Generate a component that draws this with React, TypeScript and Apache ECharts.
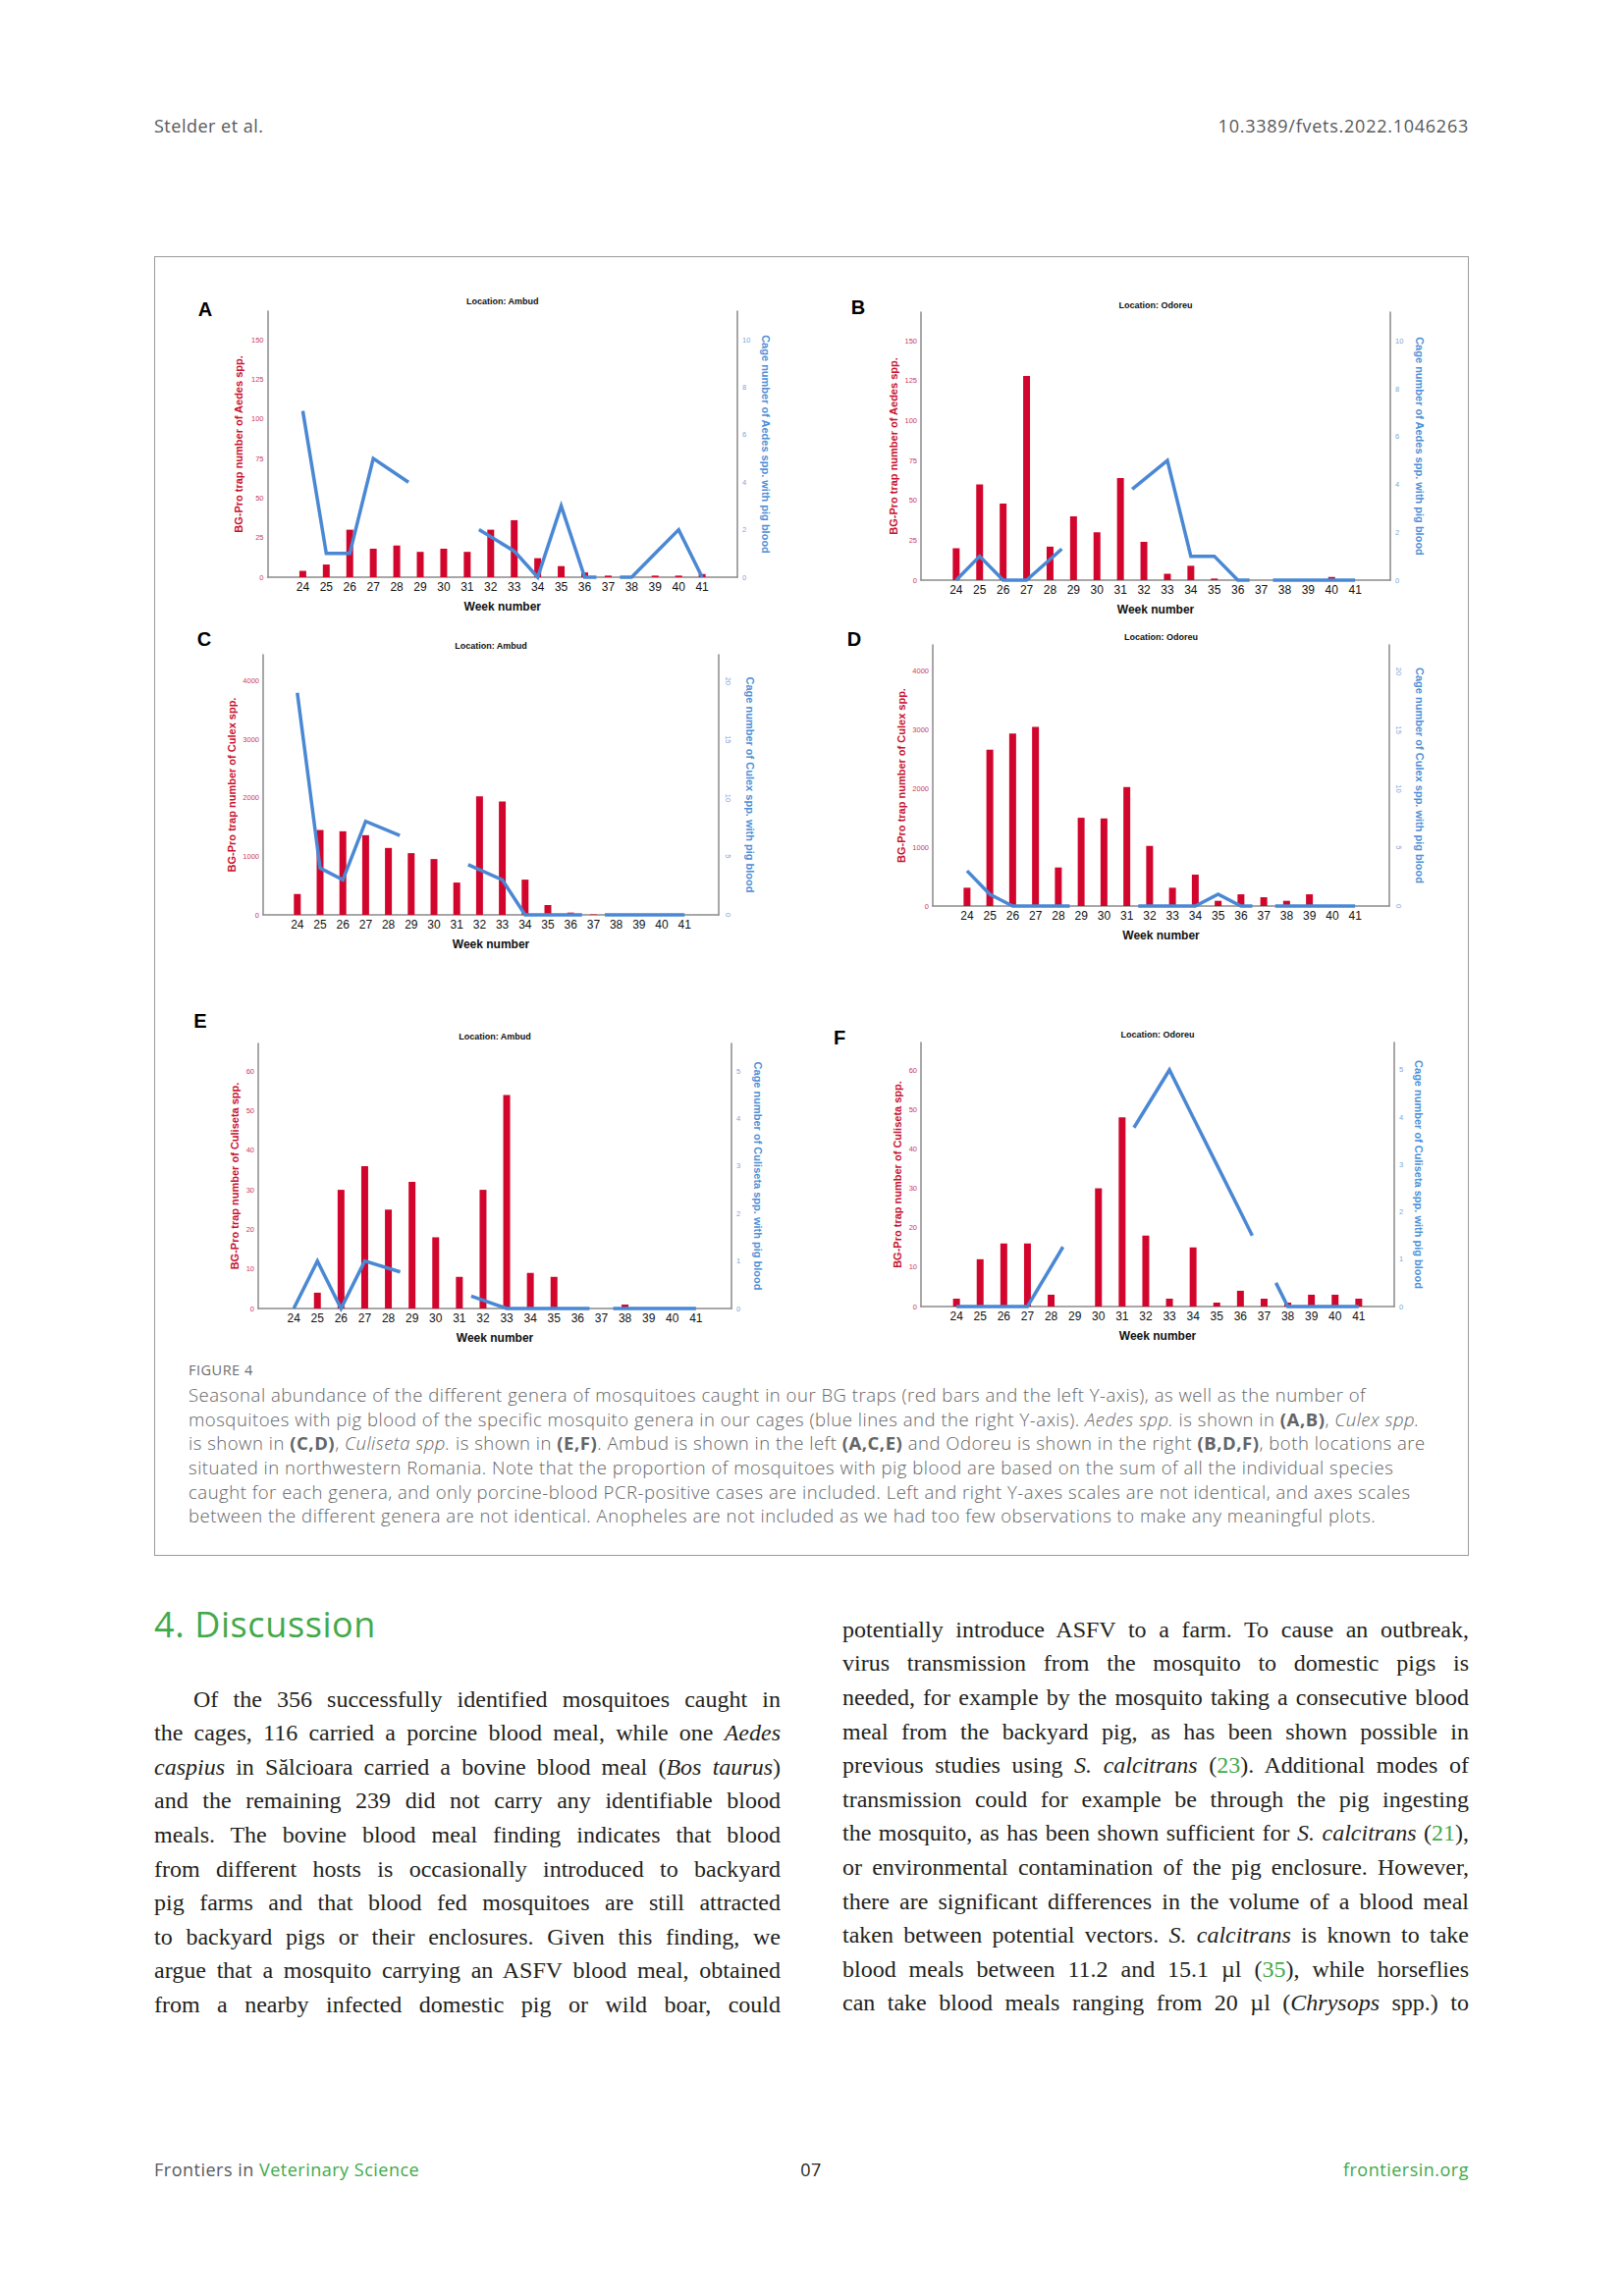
import React, { useEffect, useRef } from "react";
import * as echarts from "echarts";

// ---------- DATA ----------
const weeks = [24, 25, 26, 27, 28, 29, 30, 31, 32, 33, 34, 35, 36, 37, 38, 39, 40, 41];

const trapAedesAmbud = [4, 8, 30, 18, 20, 16, 18, 16, 30, 36, 12, 7, 3, 1, 0, 1, 1, 2];
const trapAedesOdoreu = [20, 60, 48, 128, 21, 40, 30, 64, 24, 4, 9, 1, 0, 0, 0, 0, 2, 0];
const trapCulexAmbud = [357, 1452, 1430, 1363, 1145, 1056, 955, 553, 2028, 1939, 603, 168, 39, 8, 0, 0, 0, 0];
const trapCulexOdoreu = [312, 2663, 2941, 3053, 657, 1504, 1493, 2028, 1025, 312, 535, 89, 200, 150, 89, 200, 0, 0];
const trapCulisetaAmbud = [0, 4, 30, 36, 25, 32, 18, 8, 30, 54, 9, 8, 0, 0, 1, 0, 0, 0];
const trapCulisetaOdoreu = [2, 12, 16, 16, 3, 0, 30, 48, 18, 2, 15, 1, 4, 2, 1, 3, 3, 2];

type Pt = [number, number] | null;
// cage counts with pig blood: [week, value]; null = break in the line
const cageAedesAmbud: Pt[] = [[24, 7], [25, 1], [26, 1], [27, 5], [28.5, 4], null, [31.5, 2], [33, 1.1], [34, 0], [35, 3], [36, 0], [36.5, 0], null, [37.5, 0], [38, 0], [39, 1], [40, 2], [41, 0]];
const cageAedesOdoreu: Pt[] = [[24, 0], [25, 1], [26, 0], [27, 0], [28.5, 1.3], null, [31.5, 3.8], [33, 5], [34, 1], [35, 1], [36, 0], [36.5, 0], null, [37.5, 0], [38, 0], [39, 0], [40, 0], [41, 0]];
const cageCulexAmbud: Pt[] = [[24, 19], [25, 4], [26, 3], [27, 8], [28.5, 6.8], null, [31.5, 4.3], [33, 3], [34, 0], [35, 0], [36, 0], [36.5, 0], null, [37.5, 0], [38, 0], [39, 0], [40, 0], [41, 0]];
const cageCulexOdoreu: Pt[] = [[24, 3], [25, 1], [26, 0], [27, 0], [28, 0], [28.5, 0], null, [31.5, 0], [32, 0], [33, 0], [34, 0], [35, 1], [36, 0], [36.5, 0], null, [37.5, 0], [38, 0], [39, 0], [40, 0], [41, 0]];
const cageCulisetaAmbud: Pt[] = [[24, 0], [25, 1], [26, 0], [27, 1], [28.5, 0.77], null, [31.5, 0.26], [33, 0], [34, 0], [35, 0], [36, 0], [36.5, 0], null, [37.5, 0], [38, 0], [39, 0], [40, 0], [41, 0]];
const cageCulisetaOdoreu: Pt[] = [[24, 0], [25, 0], [26, 0], [27, 0], [28.5, 1.26], null, [31.5, 3.78], [33, 5], [34, 4], [35, 3], [36, 2], [36.5, 1.5], null, [37.5, 0.5], [38, 0], [39, 0], [40, 0], [41, 0]];

const trapTicksAedes = [0, 25, 50, 75, 100, 125, 150];
const cageTicksAedes = [0, 2, 4, 6, 8, 10];
const trapTicksCulex = [0, 1000, 2000, 3000, 4000];
const cageTicksCulex = [0, 5, 10, 15, 20];
const trapTicksCuliseta = [0, 10, 20, 30, 40, 50, 60];
const cageTicksCuliseta = [0, 1, 2, 3, 4, 5];

const captionLines = [
  "Seasonal abundance of the different genera of mosquitoes caught in our BG traps (red bars and the left Y-axis), as well as the number of",
  "mosquitoes with pig blood of the specific mosquito genera in our cages (blue lines and the right Y-axis). <i>Aedes spp.</i> is shown in <b>(A,B)</b>, <i>Culex spp.</i>",
  "is shown in <b>(C,D)</b>, <i>Culiseta spp.</i> is shown in <b>(E,F)</b>. Ambud is shown in the left <b>(A,C,E)</b> and Odoreu is shown in the right <b>(B,D,F)</b>, both locations are",
  "situated in northwestern Romania. Note that the proportion of mosquitoes with pig blood are based on the sum of all the individual species",
  "caught for each genera, and only porcine-blood PCR-positive cases are included. Left and right Y-axes scales are not identical, and axes scales",
  "between the different genera are not identical. Anopheles are not included as we had too few observations to make any meaningful plots.",
];

const leftColumn = [
  "Of the 356 successfully identified mosquitoes caught in",
  "the cages, 116 carried a porcine blood meal, while one <i>Aedes</i>",
  "<i>caspius</i> in Sălcioara carried a bovine blood meal (<i>Bos taurus</i>)",
  "and the remaining 239 did not carry any identifiable blood",
  "meals. The bovine blood meal finding indicates that blood",
  "from different hosts is occasionally introduced to backyard",
  "pig farms and that blood fed mosquitoes are still attracted",
  "to backyard pigs or their enclosures. Given this finding, we",
  "argue that a mosquito carrying an ASFV blood meal, obtained",
  "from a nearby infected domestic pig or wild boar, could",
];

const rightColumn = [
  "potentially introduce ASFV to a farm. To cause an outbreak,",
  "virus transmission from the mosquito to domestic pigs is",
  "needed, for example by the mosquito taking a consecutive blood",
  "meal from the backyard pig, as has been shown possible in",
  "previous studies using <i>S. calcitrans</i> (<span class='g'>23</span>). Additional modes of",
  "transmission could for example be through the pig ingesting",
  "the mosquito, as has been shown sufficient for <i>S. calcitrans</i> (<span class='g'>21</span>),",
  "or environmental contamination of the pig enclosure. However,",
  "there are significant differences in the volume of a blood meal",
  "taken between potential vectors. <i>S. calcitrans</i> is known to take",
  "blood meals between 11.2 and 15.1 µl (<span class='g'>35</span>), while horseflies",
  "can take blood meals ranging from 20 µl (<i>Chrysops</i> spp.) to",
];

// ---------- STYLE / LAYOUT ----------
const RED = "#d2062c";
const BLUE = "#4a88d4";
const GREEN = "#43a94b";
const AXIS = "#8a8a8a";
const SANS = "'Liberation Sans', Arial, sans-serif";

const panels = [
  { letter: "A", loc: "Ambud", genus: "Aedes", trap: trapAedesAmbud, cage: cageAedesAmbud, lt: trapTicksAedes, lMax: 168, rt: cageTicksAedes, rMax: 11.2, box: [272.5, 317, 478.5, 271], lg: 24, rg: 23, rRot: 0, letterPos: [209, 315], titleY: 307 },
  { letter: "B", loc: "Odoreu", genus: "Aedes", trap: trapAedesOdoreu, cage: cageAedesOdoreu, lt: trapTicksAedes, lMax: 168, rt: cageTicksAedes, rMax: 11.2, box: [938, 318, 478, 273], lg: 23, rg: 24, rRot: 0, letterPos: [874, 313], titleY: 311 },
  { letter: "C", loc: "Ambud", genus: "Culex", trap: trapCulexAmbud, cage: cageCulexAmbud, lt: trapTicksCulex, lMax: 4450, rt: cageTicksCulex, rMax: 22.25, box: [268, 667, 464, 265], lg: 27, rg: 26, rRot: -90, letterPos: [208, 651], titleY: 658 },
  { letter: "D", loc: "Odoreu", genus: "Culex", trap: trapCulexOdoreu, cage: cageCulexOdoreu, lt: trapTicksCulex, lMax: 4450, rt: cageTicksCulex, rMax: 22.25, box: [950, 657, 465, 266], lg: 27, rg: 25, rRot: -90, letterPos: [870, 651], titleY: 649 },
  { letter: "E", loc: "Ambud", genus: "Culiseta", trap: trapCulisetaAmbud, cage: cageCulisetaAmbud, lt: trapTicksCuliseta, lMax: 67, rt: cageTicksCuliseta, rMax: 5.58, box: [263, 1063, 482, 270], lg: 19, rg: 21, rRot: 0, letterPos: [204, 1040], titleY: 1056 },
  { letter: "F", loc: "Odoreu", genus: "Culiseta", trap: trapCulisetaOdoreu, cage: cageCulisetaOdoreu, lt: trapTicksCuliseta, lMax: 67, rt: cageTicksCuliseta, rMax: 5.58, box: [938, 1062, 482, 269], lg: 19, rg: 19, rRot: 0, letterPos: [855, 1057], titleY: 1054 },
];

function splitSegments(pts: Pt[]): [number, number][][] {
  const segs: [number, number][][] = [];
  let cur: [number, number][] = [];
  pts.forEach((p) => {
    if (p === null) {
      if (cur.length) segs.push(cur);
      cur = [];
    } else cur.push(p);
  });
  if (cur.length) segs.push(cur);
  return segs;
}

function buildOption() {
  const grid: any[] = [];
  const xAxis: any[] = [];
  const yAxis: any[] = [];
  const series: any[] = [];
  const graphic: any[] = [];

  panels.forEach((p, i) => {
    const [gl, gt, gw, gh] = p.box;
    grid.push({ left: gl, top: gt, width: gw, height: gh, containLabel: false });
    xAxis.push({
      type: "value",
      gridIndex: i,
      min: 22.5,
      max: 42.5,
      interval: 0.5,
      splitLine: { show: false },
      axisTick: { show: false },
      axisLine: { show: true, lineStyle: { color: AXIS, width: 1.5 } },
      axisLabel: {
        margin: 4,
        fontSize: 12,
        color: "#111",
        fontFamily: SANS,
        formatter: (v: number) => (weeks.includes(v) ? String(v) : ""),
      },
      name: "Week number",
      nameLocation: "middle",
      nameGap: 24,
      nameTextStyle: { fontSize: 12, fontWeight: "bold", color: "#111", fontFamily: SANS },
    });
    yAxis.push({
      type: "value",
      gridIndex: i,
      position: "left",
      min: 0,
      max: p.lMax,
      interval: p.lt[1] - p.lt[0],
      splitLine: { show: false },
      axisTick: { show: false },
      axisLine: { show: true, lineStyle: { color: AXIS, width: 1.5 } },
      axisLabel: {
        margin: 4,
        fontSize: 7.5,
        color: "#cc3a5c",
        fontFamily: SANS,
        showMaxLabel: false,
        formatter: (v: number) => (p.lt.includes(v) ? String(v) : ""),
      },
      name: `BG-Pro trap number of ${p.genus} spp.`,
      nameLocation: "middle",
      nameGap: p.lg,
      nameTextStyle: { fontSize: 11, fontWeight: "bold", color: "#c8102e", fontFamily: SANS },
    });
    yAxis.push({
      type: "value",
      gridIndex: i,
      position: "right",
      min: 0,
      max: p.rMax,
      interval: p.rt[1] - p.rt[0],
      splitLine: { show: false },
      axisTick: { show: false },
      axisLine: { show: true, lineStyle: { color: AXIS, width: 1.5 } },
      axisLabel: {
        margin: 5,
        fontSize: 7.5,
        rotate: p.rRot,
        color: "#7ea5d6",
        fontFamily: SANS,
        showMaxLabel: false,
        formatter: (v: number) => (p.rt.includes(v) ? String(v) : ""),
      },
      name: `Cage number of ${p.genus} spp. with pig blood`,
      nameLocation: "middle",
      nameRotate: -90,
      nameGap: p.rg,
      nameTextStyle: { fontSize: 11, fontWeight: "bold", color: "#4a8fd8", fontFamily: SANS },
    });
    series.push({
      type: "bar",
      xAxisIndex: i,
      yAxisIndex: 2 * i,
      barWidth: 7,
      itemStyle: { color: RED },
      data: weeks.map((w, k) => [w, p.trap[k]]),
      z: 2,
    });
    splitSegments(p.cage).forEach((seg) => {
      series.push({
        type: "line",
        xAxisIndex: i,
        yAxisIndex: 2 * i + 1,
        showSymbol: false,
        symbol: "none",
        clip: false,
        lineStyle: { color: BLUE, width: 3.5, cap: "butt", join: "miter" },
        data: seg,
        z: 3,
      });
    });
    graphic.push({
      type: "text",
      x: gl + gw / 2,
      y: p.titleY,
      style: { text: `Location: ${p.loc}`, fill: "#111", fontSize: 9, fontWeight: "bold", fontFamily: SANS, align: "center", verticalAlign: "middle" },
    });
    graphic.push({
      type: "text",
      x: p.letterPos[0],
      y: p.letterPos[1],
      style: { text: p.letter, fill: "#000", fontSize: 20, fontWeight: "bold", fontFamily: SANS, align: "center", verticalAlign: "middle" },
    });
  });

  return { animation: false, grid, xAxis, yAxis, series, graphic };
}

const OPEN = "'Open Sans', 'Noto Sans', sans-serif";
const SERIF = "'Liberation Serif', 'Times New Roman', serif";

export default function App() {
  const ref = useRef<HTMLDivElement>(null);
  useEffect(() => {
    if (!ref.current) return;
    const chart = echarts.init(ref.current, null, { renderer: "svg" });
    chart.setOption(buildOption() as any);
    return () => chart.dispose();
  }, []);

  const capTop0 = 1421 - 14.3 + 2.5;
  const bodyL = 34.6;
  const leftTop0 = 1713.5;
  const rightTop0 = 1713.5 - 2 * bodyL - 1.5;
  const pageText: React.CSSProperties = { position: "absolute", fontFamily: OPEN, fontSize: 18, lineHeight: "24px", letterSpacing: "0.5px", color: "#58595b", whiteSpace: "nowrap" };

  return (
    <div style={{ position: "absolute", left: 0, top: 0, width: 1654, height: 2339, background: "#fff", overflow: "hidden" }}>
      <style>{`.g{color:${GREEN}} .cap b{font-weight:700} .jl{position:absolute;width:638px;text-align:justify;text-align-last:justify;font-family:${SERIF};font-size:24px;line-height:${bodyL}px;height:${bodyL}px;color:#231f20;}`}</style>
      {/* header */}
      <div style={{ ...pageText, left: 157, top: 116 }}>Stelder et al.</div>
      <div style={{ ...pageText, right: 1654 - 1496, top: 116, letterSpacing: "0.75px" }}>10.3389/fvets.2022.1046263</div>

      {/* figure box */}
      <div style={{ position: "absolute", left: 157, top: 261, width: 1339, height: 1324, border: "1px solid #9a9a9a", boxSizing: "border-box" }} />

      {/* caption */}
      <div style={{ position: "absolute", left: 192, top: 1385.5, fontFamily: OPEN, fontSize: 14.5, lineHeight: "20px", letterSpacing: "0.5px", color: "#6d6e71" }}>FIGURE 4</div>
      {captionLines.map((t, k) => (
        <div
          key={k}
          className="cap"
          style={{ position: "absolute", left: 192, top: capTop0 + k * 24.6, fontFamily: OPEN, fontSize: 18.5, fontWeight: 300, letterSpacing: "0.52px", lineHeight: "24.6px", color: "#636466", whiteSpace: "nowrap" }}
          dangerouslySetInnerHTML={{ __html: t }}
        />
      ))}

      {/* discussion */}
      <div style={{ position: "absolute", left: 157, top: 1635, fontFamily: OPEN, fontSize: 36, letterSpacing: "0.6px", lineHeight: "40px", color: GREEN, whiteSpace: "nowrap" }}>4. Discussion</div>
      {leftColumn.map((t, k) => (
        <div
          key={"l" + k}
          className="jl"
          style={{ left: k === 0 ? 197 : 157, width: k === 0 ? 598 : 638, top: leftTop0 + k * bodyL }}
          dangerouslySetInnerHTML={{ __html: t }}
        />
      ))}
      {rightColumn.map((t, k) => (
        <div key={"r" + k} className="jl" style={{ left: 858, top: rightTop0 + k * bodyL }} dangerouslySetInnerHTML={{ __html: t }} />
      ))}

      {/* footer */}
      <div style={{ ...pageText, left: 157, top: 2198 }}>
        Frontiers in <span style={{ color: GREEN }}>Veterinary Science</span>
      </div>
      <div style={{ ...pageText, left: 826, top: 2198, transform: "translateX(-50%)", color: "#231f20" }}>07</div>
      <div style={{ ...pageText, right: 1654 - 1496, top: 2198, color: GREEN }}>frontiersin.org</div>

      <div ref={ref} style={{ position: "absolute", left: 0, top: 0, width: 1654, height: 2339 }} />
    </div>
  );
}
